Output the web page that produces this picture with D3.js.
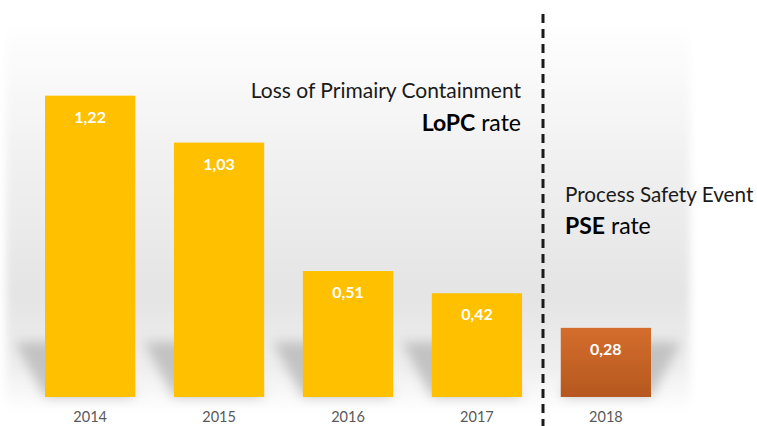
<!DOCTYPE html>
<html>
<head>
<meta charset="utf-8">
<script src="https://cdn.jsdelivr.net/npm/d3@7"></script>
<style>
  body { margin: 0; background: #fff; }
  text { font-family: Lato, "Open Sans", sans-serif; }
</style>
</head>
<body>
<div id="vis"></div>
<script>
var years = ['2014', '2015', '2016', '2017', '2018'];
var rates = [1.22, 1.03, 0.51, 0.42, 0.28];
var labels = ['1,22', '1,03', '0,51', '0,42', '0,28'];
var kinds = ['lopc', 'lopc', 'lopc', 'lopc', 'pse'];

var width = 757;
var height = 426;

var data = years.map(function(y, i) {
    return { year: y, rate: rates[i], label: labels[i], kind: kinds[i] };
});

var svg = d3.select('#vis')
    .append('svg')
    .attr('width', width)
    .attr('height', height);

var defs = svg.append('defs');

var bg = defs.append('linearGradient')
    .attr('id', 'bg')
    .attr('x1', 0).attr('y1', 0).attr('x2', 0).attr('y2', 1);
bg.append('stop').attr('offset', '0%').attr('stop-color', '#ffffff');
bg.append('stop').attr('offset', '35%').attr('stop-color', '#f1f1f1');
bg.append('stop').attr('offset', '70%').attr('stop-color', '#e4e4e4');
bg.append('stop').attr('offset', '88%').attr('stop-color', '#eeeeee');
bg.append('stop').attr('offset', '100%').attr('stop-color', '#ffffff');

var pse = defs.append('linearGradient')
    .attr('id', 'pse')
    .attr('x1', 0).attr('y1', 0).attr('x2', 0).attr('y2', 1);
pse.append('stop').attr('offset', '0%').attr('stop-color', '#d46d2c');
pse.append('stop').attr('offset', '100%').attr('stop-color', '#b5581f');

defs.append('filter').attr('id', 'soft')
    .attr('x', '-10%').attr('y', '-10%').attr('width', '120%').attr('height', '120%')
    .append('feGaussianBlur').attr('stdDeviation', 4);

defs.append('filter').attr('id', 'shadow')
    .attr('x', '-50%').attr('y', '-50%').attr('width', '200%').attr('height', '200%')
    .append('feGaussianBlur').attr('stdDeviation', 6);

// background panel
svg.append('rect')
    .attr('x', 6)
    .attr('y', 20)
    .attr('width', 684)
    .attr('height', 392)
    .attr('fill', 'url(#bg)')
    .attr('filter', 'url(#soft)');

var xScale = d3.scaleBand()
    .domain(years)
    .range([45, 651])
    .paddingInner(0.3)
    .paddingOuter(0);

var yScale = d3.scaleLinear()
    .domain([0, 1.5])
    .range([397, 26.5]);

var base = yScale(0);

// shadows cast behind the bars
svg.append('g').selectAll('path')
    .data(data)
    .enter().append('path')
    .attr('d', function(d) {
        var x0 = xScale(d.year);
        var x1 = x0 + xScale.bandwidth();
        var h = Math.min(base - yScale(d.rate), 55);
        var dx = d.kind === 'pse' ? 30 : -30;
        return 'M' + x0 + ',' + base +
            'L' + (x0 + dx) + ',' + (base - h) +
            'L' + (x1 + dx) + ',' + (base - h) +
            'L' + x1 + ',' + base + 'Z';
    })
    .attr('fill', '#b0b0b0')
    .attr('opacity', 0.7)
    .attr('filter', 'url(#shadow)');

svg.append('g').selectAll('rect')
    .data(data)
    .enter().append('rect')
    .attr('x', function(d) { return xScale(d.year); })
    .attr('y', function(d) { return yScale(d.rate); })
    .attr('width', xScale.bandwidth())
    .attr('height', function(d) { return base - yScale(d.rate); })
    .attr('fill', function(d) { return d.kind === 'pse' ? 'url(#pse)' : '#ffc000'; });

svg.append('g').selectAll('text')
    .data(data)
    .enter().append('text')
    .attr('x', function(d) { return xScale(d.year) + xScale.bandwidth() / 2; })
    .attr('y', function(d) { return yScale(d.rate) + 27; })
    .attr('text-anchor', 'middle')
    .attr('fill', '#ffffff')
    .attr('font-weight', 'bold')
    .attr('font-size', 16)
    .text(function(d) { return d.label; });

// year labels
var xAxis = d3.axisBottom(xScale).tickSize(0).tickPadding(0);
var axisG = svg.append('g')
    .attr('transform', 'translate(0,' + (base + 15) + ')')
    .call(xAxis);
axisG.select('.domain').remove();
axisG.selectAll('text')
    .attr('font-family', 'Lato, "Open Sans", sans-serif')
    .attr('font-size', 14.5)
    .attr('fill', '#595959');

// divider
svg.append('line')
    .attr('x1', 543).attr('x2', 543)
    .attr('y1', 14).attr('y2', height)
    .attr('stroke', '#1a1a1a')
    .attr('stroke-width', 3)
    .attr('stroke-dasharray', '9,6');

svg.append('text')
    .attr('x', 521).attr('y', 98)
    .attr('text-anchor', 'end')
    .attr('font-size', 21)
    .attr('fill', '#1a1a1a')
    .text('Loss of Primairy Containment');

var t2 = svg.append('text')
    .attr('x', 521).attr('y', 131)
    .attr('text-anchor', 'end')
    .attr('font-size', 23)
    .attr('fill', '#000');
t2.append('tspan').attr('font-weight', 'bold').text('LoPC');
t2.append('tspan').text(' rate');

svg.append('text')
    .attr('x', 565).attr('y', 202)
    .attr('font-size', 20.7)
    .attr('fill', '#1a1a1a')
    .text('Process Safety Event');

var t4 = svg.append('text')
    .attr('x', 565).attr('y', 234)
    .attr('font-size', 23)
    .attr('fill', '#000');
t4.append('tspan').attr('font-weight', 'bold').text('PSE');
t4.append('tspan').text(' rate');
</script>
</body>
</html>
